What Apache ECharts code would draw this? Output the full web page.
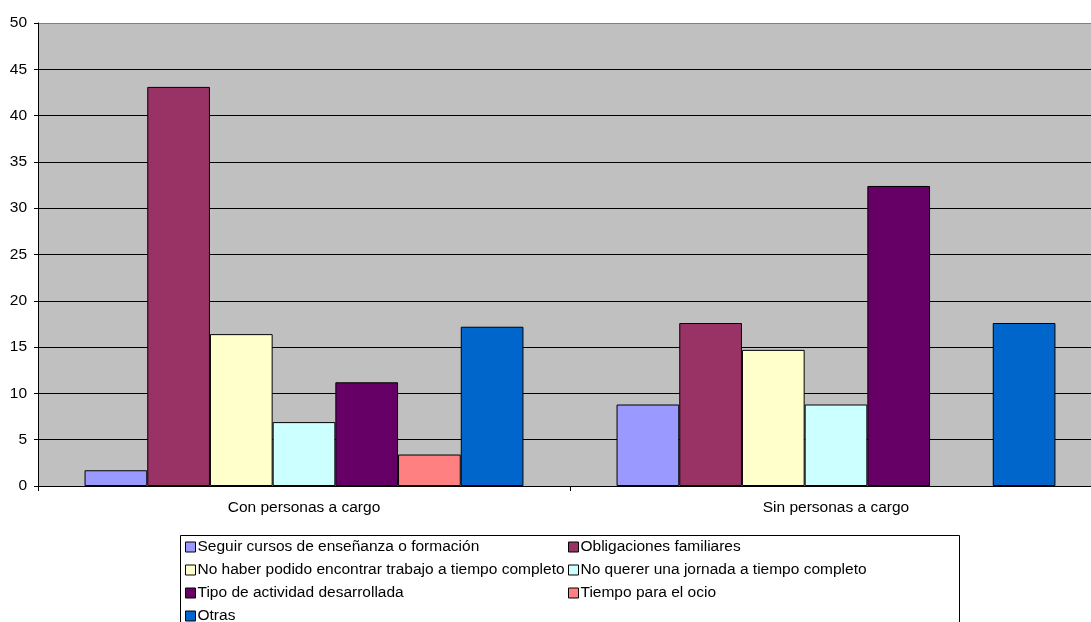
<!DOCTYPE html>
<html>
<head>
<meta charset="utf-8">
<script src="https://cdn.jsdelivr.net/npm/echarts@6/dist/echarts.min.js"></script>
<style>
html,body{margin:0;padding:0;background:#fff;overflow:hidden;width:1091px;height:622px;}
#chart{width:1102px;height:622px;}
</style>
</head>
<body>
<div id="chart"></div>
<script>
var categories = ['Con personas a cargo', 'Sin personas a cargo'];
var seriesNames = [
  'Seguir cursos de enseñanza o formación',
  'Obligaciones familiares',
  'No haber podido encontrar trabajo a tiempo completo',
  'No querer una jornada a tiempo completo',
  'Tipo de actividad desarrollada',
  'Tiempo para el ocio',
  'Otras'
];
var seguir = [1.7, 8.8];
var obligaciones = [43.1, 17.6];
var noHaber = [16.4, 14.7];
var noQuerer = [6.9, 8.8];
var tipo = [11.2, 32.4];
var ocio = [3.4, 0];
var otras = [17.2, 17.6];
var yTicks = [0, 5, 10, 15, 20, 25, 30, 35, 40, 45, 50];

var colors = ['#9999FF', '#993366', '#FFFFCC', '#CCFFFF', '#660066', '#FF8080', '#0066CC'];
var values = [seguir, obligaciones, noHaber, noQuerer, tipo, ocio, otras];

var font = 'Liberation Sans, Arial, sans-serif';
var fs = 15.5;
var series = seriesNames.map(function (n, i) {
  return {
    name: n,
    type: 'bar',
    barGap: '0%',
    barCategoryGap: '17.5%',
    itemStyle: { color: colors[i], borderColor: '#000', borderWidth: 1 },
    data: values[i].map(function (v) { return v === 0 ? '-' : v; })
  };
});

var splitColors = yTicks.map(function (t, i) { return i === yTicks.length - 1 ? '#808080' : '#000'; });

// legend slot positions: [column, row]
var legendSlots = [[0, 0], [1, 0], [0, 1], [1, 1], [0, 2], [1, 2], [0, 3]];
var colX = [185, 568];
var rowY = [539, 562, 585, 608];
var legends = seriesNames.map(function (n, i) {
  return {
    left: colX[legendSlots[i][0]],
    top: rowY[legendSlots[i][1]],
    padding: 0,
    itemWidth: 10,
    itemHeight: 10,
    icon: 'rect',
    selectedMode: false,
    textStyle: { fontFamily: font, fontSize: fs, color: '#000', padding: [0, 0, 0, -3] },
    itemStyle: { borderColor: '#000', borderWidth: 1 },
    data: [n]
  };
});

var chart = echarts.init(document.getElementById('chart'));
chart.setOption({
  animation: false,
  color: colors,
  grid: {
    left: 38, top: 23, right: 0, bottom: 136,
    show: true, backgroundColor: '#C0C0C0', borderWidth: 0
  },
  xAxis: {
    type: 'category',
    data: categories,
    axisLine: { lineStyle: { color: '#000', width: 1 } },
    axisTick: { show: true, length: 5, lineStyle: { color: '#000' } },
    axisLabel: { fontFamily: font, fontSize: fs, color: '#000', margin: 14 }
  },
  yAxis: {
    type: 'value',
    min: 0, max: 50, interval: 5,
    axisLine: { show: true, lineStyle: { color: '#000', width: 1 } },
    axisTick: { show: true, length: 4, lineStyle: { color: '#000' } },
    axisLabel: { fontFamily: font, fontSize: fs, color: '#000', margin: 11 },
    splitLine: { show: true, lineStyle: { color: splitColors, width: 1 } }
  },
  legend: legends,
  graphic: [{
    type: 'rect',
    shape: { x: 180.5, y: 535.5, width: 779, height: 100 },
    style: { fill: 'none', stroke: '#000', lineWidth: 1 },
    silent: true
  }],
  series: series
});
</script>
</body>
</html>
